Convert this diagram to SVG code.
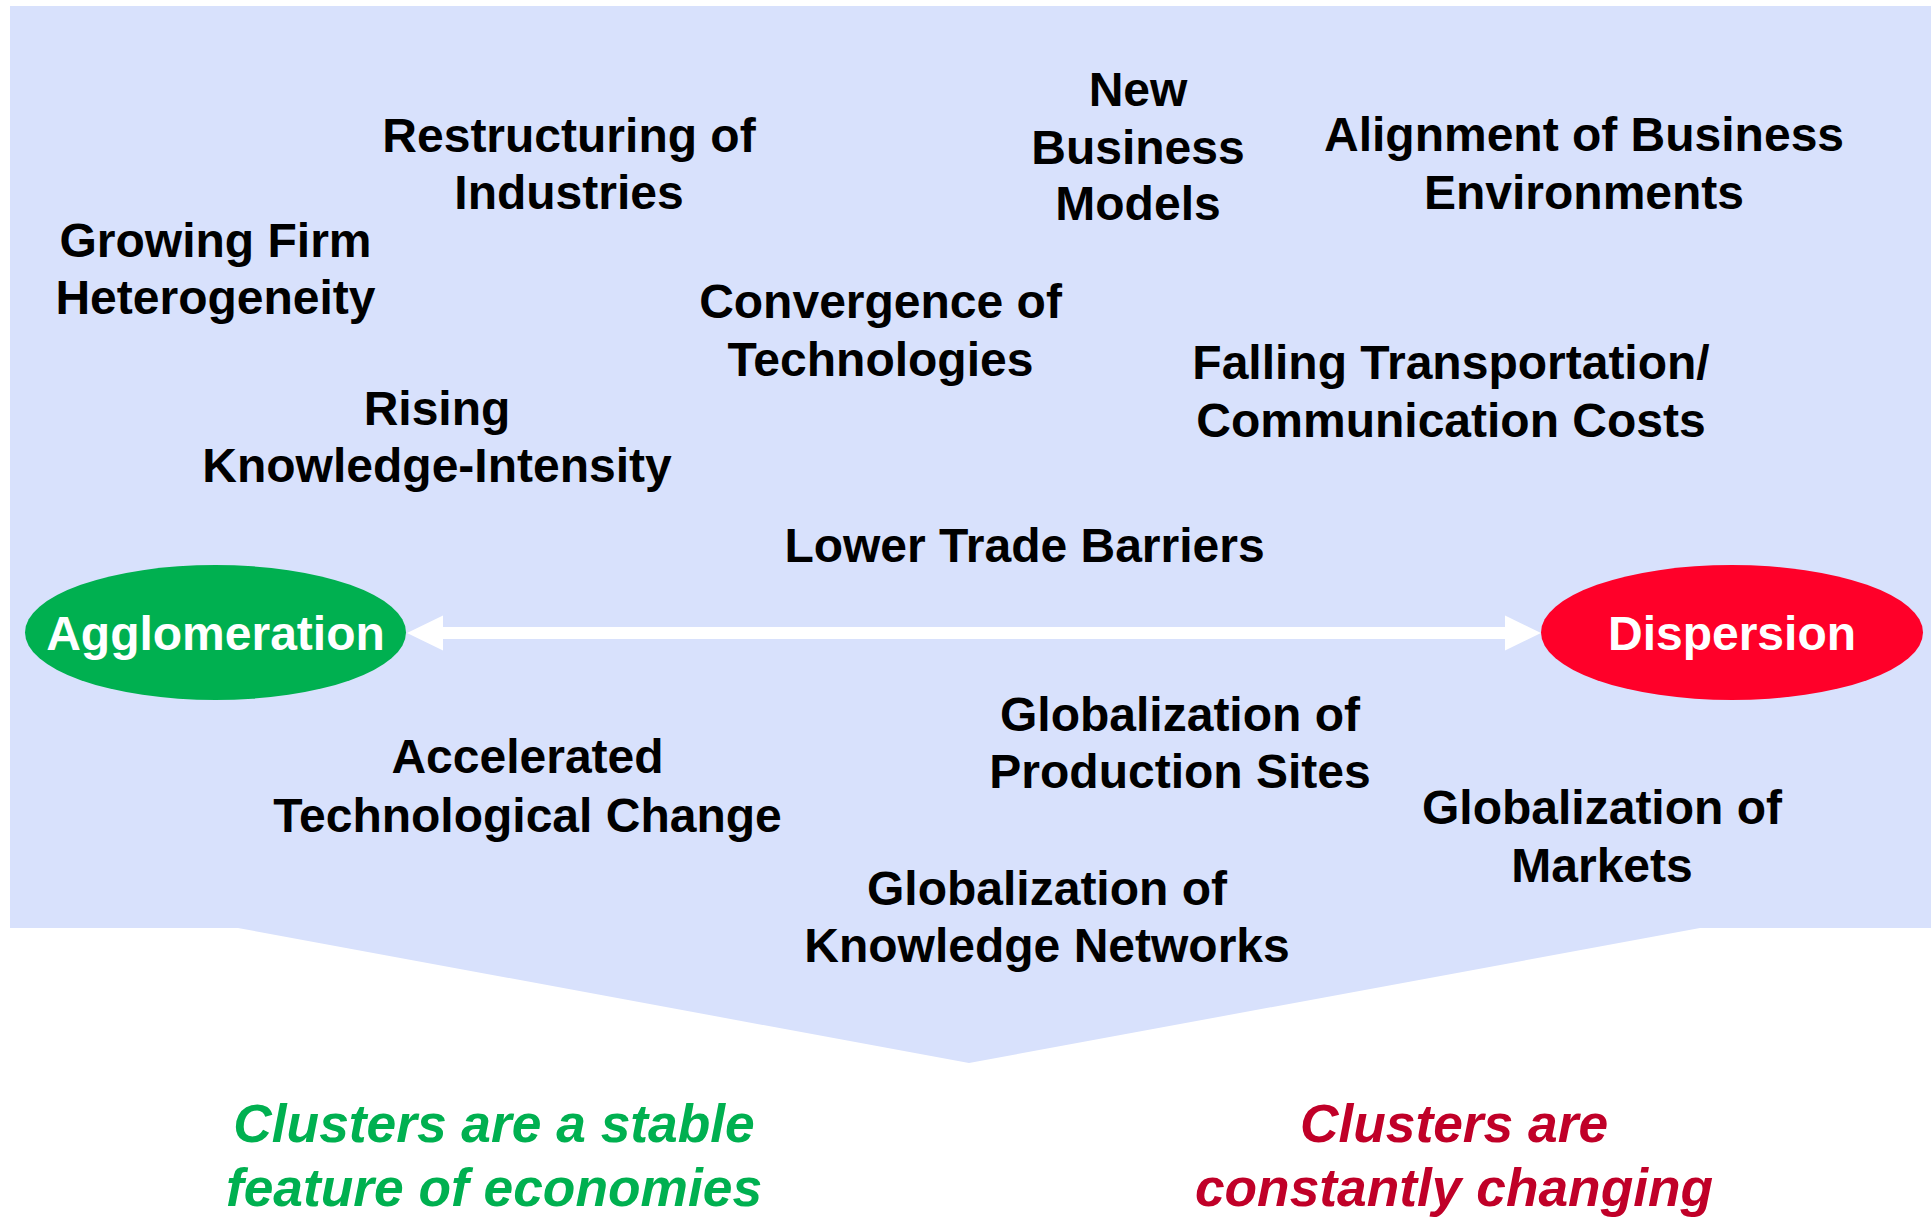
<svg xmlns="http://www.w3.org/2000/svg" width="1931" height="1217" viewBox="0 0 1931 1217">
<style>
.t{font-family:"Liberation Sans",Arial,sans-serif;font-weight:bold;font-size:48px;fill:#000;text-anchor:middle}
.w{fill:#fff}
.c{font-family:"Liberation Sans",Arial,sans-serif;font-weight:bold;font-style:italic;font-size:53.3px;text-anchor:middle}
</style>
<rect width="1931" height="1217" fill="#fff"/>
<g id="background">
<polygon points="10,6 1931,6 1931,928 1700,928 969,1063 238,928 10,928" fill="#D8E1FC"/>
</g>
<g id="connectors">
<polygon points="407,633 443,615.5 443,627 1505,627 1505,615.5 1541,633 1505,650.5 1505,639 443,639 443,650.5" fill="#fff"/>
</g>
<g id="agglomeration">
<ellipse cx="215.5" cy="632.5" rx="190.5" ry="67.5" fill="#00B050"/>
<text class="t w" x="215.5" y="650">Agglomeration</text>
</g>
<g id="dispersion">
<ellipse cx="1732" cy="632.5" rx="191" ry="67.5" fill="#FF0029"/>
<text class="t w" x="1732" y="650">Dispersion</text>
</g>
<g id="restructuring"><text class="t" x="569" y="152">Restructuring of</text><text class="t" x="569" y="209">Industries</text></g>
<g id="growing-firm"><text class="t" x="215.5" y="257">Growing Firm</text><text class="t" x="215.5" y="314">Heterogeneity</text></g>
<g id="new-business"><text class="t" x="1138" y="106">New</text><text class="t" x="1138" y="164">Business</text><text class="t" x="1138" y="220">Models</text></g>
<g id="alignment"><text class="t" x="1584" y="151">Alignment of Business</text><text class="t" x="1584" y="209">Environments</text></g>
<g id="convergence"><text class="t" x="880.5" y="318">Convergence of</text><text class="t" x="880.5" y="376">Technologies</text></g>
<g id="rising"><text class="t" x="437" y="425">Rising</text><text class="t" x="437" y="482">Knowledge-Intensity</text></g>
<g id="falling"><text class="t" x="1451" y="379">Falling Transportation/</text><text class="t" x="1451" y="437">Communication Costs</text></g>
<g id="lower-trade"><text class="t" x="1024.5" y="562">Lower Trade Barriers</text></g>
<g id="accelerated"><text class="t" x="527.5" y="773">Accelerated</text><text class="t" x="527.5" y="832">Technological Change</text></g>
<g id="glob-production"><text class="t" x="1180" y="731">Globalization of</text><text class="t" x="1180" y="788">Production Sites</text></g>
<g id="glob-markets"><text class="t" x="1602" y="824">Globalization of</text><text class="t" x="1602" y="882">Markets</text></g>
<g id="glob-knowledge"><text class="t" x="1047" y="905">Globalization of</text><text class="t" x="1047" y="962">Knowledge Networks</text></g>
<g id="stable"><text class="c" x="494" y="1142" fill="#00B050">Clusters are a stable</text><text class="c" x="494" y="1206" fill="#00B050">feature of economies</text></g>
<g id="changing"><text class="c" x="1454" y="1142" fill="#C00028">Clusters are</text><text class="c" x="1454" y="1206" fill="#C00028">constantly changing</text></g>
</svg>
